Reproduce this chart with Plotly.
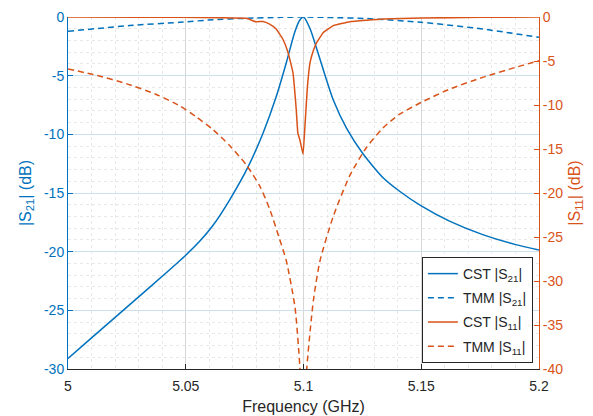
import plotly.graph_objects as go

# ---- data ----
f_cst21 = [5.000, 5.010, 5.020, 5.030, 5.040, 5.050, 5.056, 5.0616, 5.0686, 5.0764,
           5.0828, 5.0884, 5.0927, 5.0962, 5.0983, 5.1000, 5.1028, 5.1056, 5.1092, 5.1127,
           5.1183, 5.1254, 5.1338, 5.1408, 5.1500, 5.1620, 5.1761, 5.1901, 5.2000]
s21_cst = [-29.1, -27.35, -25.6, -23.85, -22.1, -20.3, -19.1, -17.75, -15.6, -12.8,
           -9.9, -6.8, -3.9, -1.35, -0.3, 0.0, -1.0, -2.7, -5.0, -7.1,
           -9.5, -11.7, -13.7, -14.85, -16.1, -17.4, -18.55, -19.4, -19.85]

f_tmm21 = [5.000, 5.0262, 5.0475, 5.0616, 5.0757, 5.090, 5.100, 5.1127, 5.1268, 5.150, 5.176, 5.200]
s21_tmm = [-1.22, -0.73, -0.45, -0.23, -0.11, -0.03, 0.0, -0.05, -0.13, -0.45, -1.02, -1.73]

f_cst11 = [5.000, 5.030, 5.0475, 5.065, 5.0757, 5.0799, 5.0828, 5.0856, 5.0884, 5.0912,
           5.0934, 5.0955, 5.0969, 5.0976, 5.0985, 5.0998, 5.1007, 5.1017, 5.1028, 5.1042,
           5.1056, 5.1085, 5.1127, 5.1197, 5.1338, 5.1500, 5.1750, 5.2000]
s11_cst = [0.0, -0.02, -0.04, -0.08, -0.15, -0.55, -0.5, -0.8, -1.36, -2.5,
           -4.0, -6.3, -10.45, -13.2, -14.0, -15.6, -12.0, -7.8, -5.15, -3.8,
           -2.9, -1.74, -0.98, -0.53, -0.23, -0.11, -0.04, 0.0]

f_tmm11 = [5.000, 5.0125, 5.025, 5.0375, 5.0475, 5.0545, 5.0616, 5.0686, 5.0757, 5.0814,
           5.0856, 5.0898, 5.0927, 5.0964, 5.0985, 5.1000, 5.1014, 5.1042, 5.1070, 5.1127,
           5.1197, 5.1268, 5.1338, 5.1408, 5.1500, 5.1620, 5.1761, 5.1901, 5.2000]
s11_tmm = [-5.9, -6.65, -7.6, -8.8, -10.1, -11.35, -12.8, -14.6, -16.8, -19.2,
           -21.8, -25.2, -27.7, -33.0, -39.9, -48.0, -39.9, -32.2, -27.7, -22.6,
           -18.0, -14.8, -12.6, -11.05, -9.7, -8.2, -6.86, -5.72, -4.96]

x_ticks = [5.0, 5.05, 5.1, 5.15, 5.2]
x_tick_text = ["5", "5.05", "5.1", "5.15", "5.2"]
y1_ticks = [-30, -25, -20, -15, -10, -5, 0]
y1_tick_text = ["-30", "-25", "-20", "-15", "-10", "-5", "0"]
y2_ticks = [-40, -35, -30, -25, -20, -15, -10, -5, 0]
y2_tick_text = ["-40", "-35", "-30", "-25", "-20", "-15", "-10", "-5", "0"]

BLUE = "#0072BD"
ORANGE = "#D95319"
DARK = "#262626"
FONT = "Liberation Sans, Arial, sans-serif"

fig = go.Figure()
fig.add_trace(go.Scatter(x=f_cst21, y=s21_cst, mode="lines", name="CST |S<sub>21</sub>|", legendgroup="a",
                         line=dict(color=BLUE, width=1.5, shape="spline", smoothing=0.6)))
fig.add_trace(go.Scatter(x=f_tmm21, y=s21_tmm, mode="lines", name="TMM |S<sub>21</sub>|", legendgroup="b",
                         line=dict(color=BLUE, width=1.5, dash="6px,4px", shape="spline", smoothing=0.6)))
fig.add_trace(go.Scatter(x=f_cst11, y=s11_cst, mode="lines", name="CST |S<sub>11</sub>|", yaxis="y2",
                         legendgroup="c",
                         line=dict(color=ORANGE, width=1.5, shape="spline", smoothing=0.3)))
fig.add_trace(go.Scatter(x=f_tmm11, y=s11_tmm, mode="lines", name="TMM |S<sub>11</sub>|", yaxis="y2",
                         legendgroup="d",
                         line=dict(color=ORANGE, width=1.5, dash="6px,4px", shape="spline", smoothing=0.6)))

fig.update_layout(
    width=593, height=416,
    margin=dict(l=68, r=54, t=17, b=47),
    paper_bgcolor="white", plot_bgcolor="white",
    font=dict(family=FONT, size=14, color=DARK),
    showlegend=True,
    legend=dict(x=0.987, y=0.017, xanchor="right", yanchor="bottom",
                bgcolor="white", bordercolor=DARK, borderwidth=1,
                font=dict(size=14, color=DARK), itemwidth=30, tracegroupgap=3),
    xaxis=dict(range=[5.0, 5.2], tickvals=x_ticks, ticktext=x_tick_text, automargin=False,
               ticks="inside", ticklen=5, tickcolor=DARK, showline=True, linecolor=DARK,
               linewidth=1, showgrid=True, gridcolor="#d6d6d6", gridwidth=1, zeroline=False,
               tickfont=dict(size=14, color=DARK), ticklabelstandoff=4,
               title=dict(text="Frequency (GHz)", font=dict(size=16, color=DARK), standoff=8),
               minor=dict(dtick=0.01, showgrid=True, gridcolor="#e8e8e8", griddash="dot", ticks="")),
    yaxis=dict(range=[-30, 0], tickvals=y1_ticks, ticktext=y1_tick_text, ticks="inside", ticklen=5,
               tickcolor=BLUE, automargin=False,
               showline=True, linecolor=BLUE, linewidth=1, showgrid=True, gridcolor="#cde0ee",
               zeroline=False, tickfont=dict(size=14, color=BLUE),
               title=dict(text="|S<sub>21</sub>| (dB)", font=dict(size=16, color=BLUE), standoff=8),
               minor=dict(dtick=1, showgrid=True, gridcolor="#e8e8e8", griddash="dot", ticks="")),
    yaxis2=dict(range=[-40, 0], tickvals=y2_ticks, ticktext=y2_tick_text, overlaying="y", side="right",
                ticks="inside", automargin=False,
                ticklen=5, tickcolor=ORANGE, showline=True, linecolor=ORANGE, linewidth=1,
                showgrid=False, zeroline=False, tickfont=dict(size=14, color=ORANGE),
                title=dict(text="|S<sub>11</sub>| (dB)", font=dict(size=16, color=ORANGE), standoff=6)),
)

fig.write_html("out.html", config={"displayModeBar": False},
               post_script="document.body.style.margin='0';")
